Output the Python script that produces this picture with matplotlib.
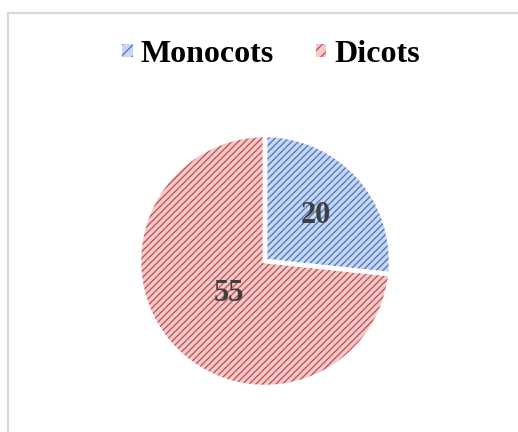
import matplotlib.pyplot as plt
import numpy
from matplotlib.patches import Patch, Rectangle

##
## === DATA
##

CATEGORIES = ["Monocots", "Dicots"]
VALUES = [20, 55]
FILL_COLORS = ["#cad8ef", "#f0cbca"]
HATCH_COLORS = ["#4f7cc8", "#c8555a"]
LABEL_RADII = [0.54, 0.38]

FIG_W, FIG_H = 518, 432
DPI = 100
HATCH = "/////"


def main() -> None:
    plt.rcParams["font.family"] = ["Liberation Serif", "DejaVu Serif"]
    plt.rcParams["hatch.linewidth"] = 1.0
    fig = plt.figure(figsize=(FIG_W / DPI, FIG_H / DPI), dpi=DPI)
    ## outer chart frame (clipped at right / bottom like the reference)
    fig.patches.append(
        Rectangle(
            (8 / FIG_W, -0.1),
            1.2,
            (FIG_H - 13) / FIG_H + 0.1,
            transform=fig.transFigure,
            fill=False,
            edgecolor="#d9d9d9",
            linewidth=1.6,
        )
    )
    cx, cy, r = 265, 261, 126
    ax = fig.add_axes([(cx - r) / FIG_W, (FIG_H - cy - r) / FIG_H, 2 * r / FIG_W, 2 * r / FIG_H])
    wedges, _ = ax.pie(
        VALUES,
        startangle=90,
        counterclock=False,
        radius=1,
        colors=FILL_COLORS,
        wedgeprops=dict(linewidth=0),
    )
    for wedge, hatch_color in zip(wedges, HATCH_COLORS):
        wedge.set_hatch(HATCH)
        wedge.set_edgecolor(hatch_color)
    ## white separators on top
    ax.pie(
        VALUES,
        startangle=90,
        counterclock=False,
        radius=1,
        wedgeprops=dict(facecolor="none", edgecolor="white", linewidth=3.2),
    )
    for wedge, value, rad in zip(wedges, VALUES, LABEL_RADII):
        mid = numpy.deg2rad((wedge.theta1 + wedge.theta2) / 2)
        ax.text(
            rad * numpy.cos(mid),
            rad * numpy.sin(mid),
            str(value),
            ha="center",
            va="center",
            fontsize=22,
            fontweight="bold",
            color="#404040",
        )
    ax.set_xlim(-1, 1)
    ax.set_ylim(-1, 1)
    ax.set_aspect("equal")
    ax.axis("off")
    handles = [
        Patch(facecolor=fc, edgecolor=hc, hatch="///", linewidth=0, label=name)
        for name, fc, hc in zip(CATEGORIES, FILL_COLORS, HATCH_COLORS)
    ]
    fig.legend(
        handles=handles,
        loc="center",
        bbox_to_anchor=(271 / FIG_W, 1 - 55 / FIG_H),
        ncol=2,
        frameon=False,
        prop=dict(size=23, weight="bold"),
        handlelength=0.33,
        handleheight=0.25,
        handletextpad=0.25,
        columnspacing=1.3,
    )
    fig.savefig("out.png", dpi=DPI)


if __name__ == "__main__":
    main()
